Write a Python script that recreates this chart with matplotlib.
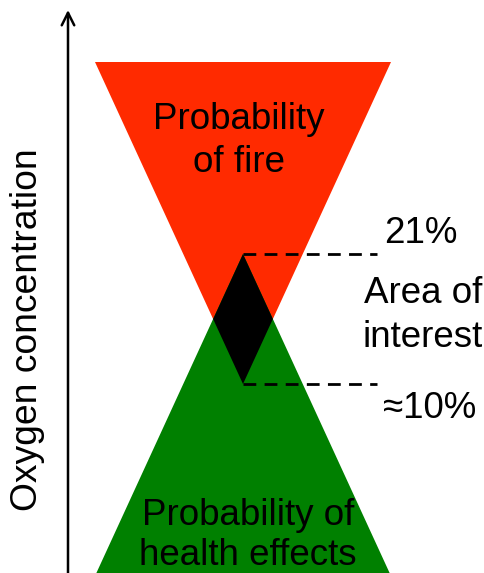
import matplotlib
matplotlib.use("Agg")
import matplotlib.pyplot as plt
from matplotlib.patches import Polygon

plt.rcParams['font.family'] = ['Liberation Sans', 'DejaVu Sans']

# ---- data (conceptual diagram) ----
levels = [21, 10]                 # oxygen % bounds of the area of interest
level_labels = ['21%', '≈10%']
fire_label = ['Probability', 'of fire']
health_label = ['Probability of', 'health effects']
interest_label = ['Area of', 'interest']
axis_label = 'Oxygen concentration'

W, H = 485, 573
fig = plt.figure(figsize=(W / 100, H / 100), dpi=100)
ax = fig.add_axes([0, 0, 1, 1])
ax.set_axis_off()

# map: pixel row -> concentration (21% at row 254, 10% at row 384)
b = (384 - 254) / (levels[0] - levels[1])
a = 254 + levels[0] * b
def yc(row):
    return (a - row) / b

ax.set_xlim(0, W)
ax.set_ylim(yc(H), yc(0))

cx = 243
top = yc(62)
bottom = yc(H + 40)
slope = 148 / (top - levels[1])   # half-width per % concentration

red = '#ff2a00'
green = '#008000'

# fire triangle: wide at high O2, apex at lower bound
ax.add_patch(Polygon([(cx - 148, top), (cx + 148, top), (cx, levels[1])],
                     closed=True, facecolor=red, edgecolor='none', zorder=1))
# health triangle: apex at upper bound, wide at low O2
hw = slope * (levels[0] - bottom)
ax.add_patch(Polygon([(cx, levels[0]), (cx + hw, bottom), (cx - hw, bottom)],
                     closed=True, facecolor=green, edgecolor='none', zorder=1))
# overlap diamond
mid = (levels[0] + levels[1]) / 2
dw = slope * (mid - levels[1])
ax.add_patch(Polygon([(cx, levels[0]), (cx + dw, mid), (cx, levels[1]), (cx - dw, mid)],
                     closed=True, facecolor='black', edgecolor='none', zorder=2))

# dashed level lines
for lv in levels:
    ax.plot([cx, 377], [lv, lv], color='black', lw=2.0,
            linestyle=(0, (4.6, 3.0)), solid_capstyle='butt', zorder=3)

# vertical axis arrow
ax.annotate('', xy=(68, yc(10)), xytext=(68, yc(H + 5)),
            arrowprops=dict(arrowstyle='->,head_length=0.9,head_width=0.45',
                            mutation_scale=10, lw=1.8, color='black',
                            shrinkA=0, shrinkB=0))

fs = 26.5
ax.text(27.5, yc(330), axis_label, rotation=90, ha='center', va='center', fontsize=26.8)

ax.text(239, yc(129), fire_label[0], ha='center', va='baseline', fontsize=fs)
ax.text(239, yc(172), fire_label[1], ha='center', va='baseline', fontsize=fs)

ax.text(248, yc(525), health_label[0], ha='center', va='baseline', fontsize=fs)
ax.text(248, yc(565), health_label[1], ha='center', va='baseline', fontsize=fs)

ax.text(421, yc(243), level_labels[0], ha='center', va='baseline', fontsize=fs)
ax.text(430, yc(418), level_labels[1], ha='center', va='baseline', fontsize=fs)

ax.text(423, yc(303), interest_label[0], ha='center', va='baseline', fontsize=fs)
ax.text(423, yc(347), interest_label[1], ha='center', va='baseline', fontsize=fs)

fig.savefig('out.png', dpi=100)
